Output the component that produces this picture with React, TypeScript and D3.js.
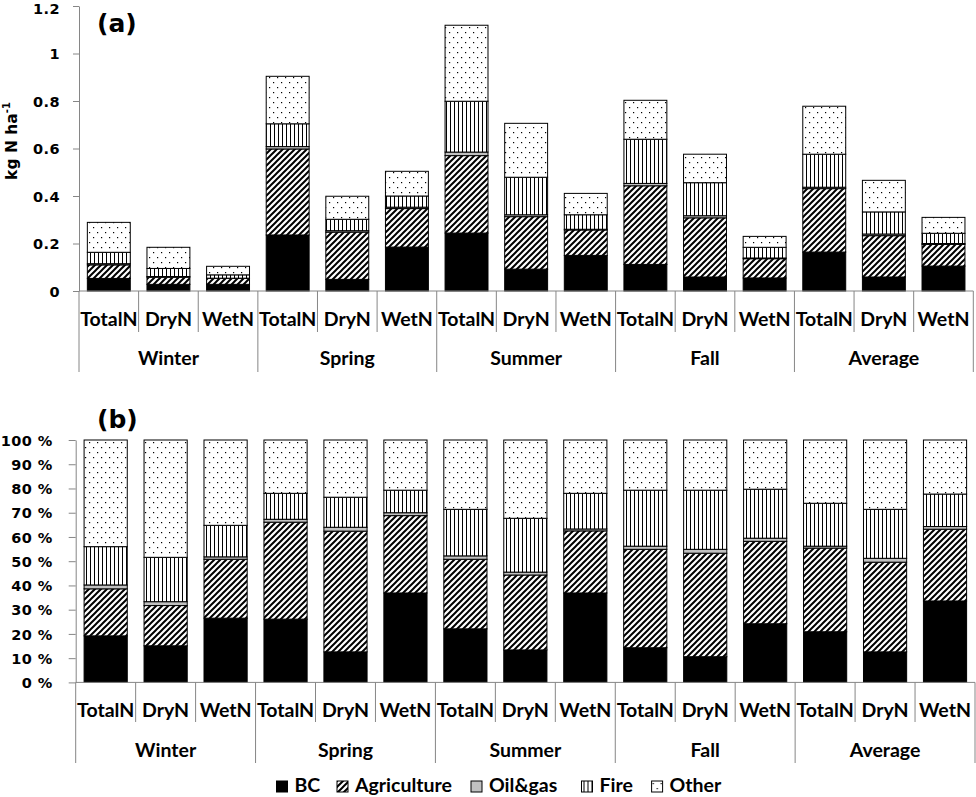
import { useRef, useEffect } from 'react';
import * as d3 from 'd3';

const seasons = ['Winter', 'Spring', 'Summer', 'Fall', 'Average'];
const types = ['TotalN', 'DryN', 'WetN'];
const sources = ['BC', 'Agriculture', 'Oil&gas', 'Fire', 'Other'];

// panel (a): kg N ha-1, bars in order Winter TotalN, DryN, WetN, Spring TotalN ... Average WetN
const bcA = [0.053, 0.028, 0.028, 0.236, 0.049, 0.185, 0.244, 0.092, 0.15, 0.112, 0.059, 0.055, 0.164, 0.059, 0.105];
const agriA = [0.057, 0.03, 0.025, 0.362, 0.199, 0.162, 0.326, 0.221, 0.107, 0.331, 0.249, 0.081, 0.267, 0.174, 0.091];
const oilA = [0.005, 0.003, 0.001, 0.01, 0.006, 0.006, 0.015, 0.008, 0.003, 0.01, 0.009, 0.003, 0.006, 0.007, 0.004];
const fireA = [0.048, 0.034, 0.014, 0.096, 0.048, 0.047, 0.214, 0.158, 0.061, 0.186, 0.139, 0.045, 0.139, 0.093, 0.043];
const otherA = [0.126, 0.089, 0.036, 0.2, 0.097, 0.104, 0.32, 0.227, 0.09, 0.164, 0.12, 0.046, 0.202, 0.133, 0.067];

// panel (b): percent share, same bar order
const bcB = [19.2, 15.1, 26.5, 26.1, 12.6, 36.9, 22.1, 13.4, 36.9, 14.3, 10.6, 24.2, 20.9, 12.6, 33.6];
const agriB = [19.4, 16.6, 24.3, 40.0, 49.8, 31.9, 28.7, 30.9, 25.6, 40.6, 42.7, 34.0, 34.5, 37.0, 29.6];
const oilB = [1.6, 1.6, 1.0, 1.2, 1.6, 1.2, 1.4, 1.2, 0.8, 1.3, 1.6, 1.3, 0.8, 1.6, 1.1];
const fireB = [15.8, 18.3, 13.0, 10.7, 12.4, 9.3, 19.2, 22.2, 14.7, 23.1, 24.4, 20.2, 17.7, 20.2, 13.4];
const otherB = [44.0, 48.4, 35.2, 22.0, 23.6, 20.7, 28.6, 32.3, 22.0, 20.7, 20.7, 20.3, 26.1, 28.6, 22.3];

const ticksA = [0, 0.2, 0.4, 0.6, 0.8, 1, 1.2];
const ticksB = [0, 10, 20, 30, 40, 50, 60, 70, 80, 90, 100];

const AXIS = '#868686';
const fills = ['#000', 'url(#agri)', '#c0c0c0', 'url(#fire)', 'url(#other)'];
const numFont = 'DejaVu Sans, Verdana, sans-serif';
const labFont = 'Lato, Calibri, sans-serif';

interface Panel {
  values: number[][];
  x0: number;
  x1: number;
  yBase: number;
  yTop: number;
  max: number;
  ticks: number[];
  fmt: (v: number) => string;
  tickLen: number;
  tickPad: number;
  catY: number;
  grpY: number;
  sepShort: number;
  sepLong: number;
  tag: string;
  tagY: number;
}

function drawPanel(svg: d3.Selection<SVGSVGElement, unknown, null, undefined>, p: Panel) {
  const cats = seasons.flatMap((s) => types.map((t) => `${s}-${t}`));
  const rows = cats.map((c, i) => {
    const r: { [key: string]: any } = { key: c };
    sources.forEach((s, j) => (r[s] = p.values[j][i]));
    return r;
  });
  const series = d3.stack<any>().keys(sources)(rows);

  const x = d3.scaleBand().domain(cats).range([p.x0, p.x1]).paddingInner(0.28).paddingOuter(0.14);
  const y = d3.scaleLinear().domain([0, p.max]).range([p.yBase, p.yTop]);
  const bound = d3.scaleLinear().domain([0, cats.length]).range([p.x0, p.x1]);

  const g = svg.append('g');

  // stacked bars
  g.selectAll('g.layer')
    .data(series)
    .enter()
    .append('g')
    .attr('class', 'layer')
    .attr('fill', (_d, i) => fills[i])
    .selectAll('rect')
    .data((d) => d)
    .enter()
    .append('rect')
    .attr('x', (d: any) => x(d.data.key)!)
    .attr('y', (d) => y(d[1]))
    .attr('width', x.bandwidth())
    .attr('height', (d) => y(d[0]) - y(d[1]))
    .attr('stroke', '#000')
    .attr('stroke-width', 1);

  // y axis
  const ya = g
    .append('g')
    .attr('transform', `translate(${p.x0},0)`)
    .call(
      d3
        .axisLeft(y)
        .tickValues(p.ticks)
        .tickFormat((v) => p.fmt(+v))
        .tickSize(p.tickLen)
        .tickSizeOuter(0)
        .tickPadding(p.tickPad)
    );
  ya.select('.domain').attr('stroke', AXIS);
  ya.selectAll('.tick line').attr('stroke', AXIS);
  ya.selectAll<SVGTextElement, number>('text')
    .attr('font-family', numFont)
    .attr('font-weight', 'bold')
    .attr('font-size', 14.5)
    .attr('letter-spacing', 0.4)
    // the topmost label sits a little lower so it stays inside the frame
    .attr('dy', (v) => (y(v) < 10 ? '0.55em' : '0.36em'))
    .attr('fill', '#000');

  // x axis line and category separators
  g.append('line')
    .attr('x1', p.x0)
    .attr('x2', p.x1)
    .attr('y1', p.yBase)
    .attr('y2', p.yBase)
    .attr('stroke', AXIS);
  g.selectAll('line.sep')
    .data(d3.range(cats.length + 1))
    .enter()
    .append('line')
    .attr('class', 'sep')
    .attr('x1', (i) => bound(i))
    .attr('x2', (i) => bound(i))
    .attr('y1', p.yBase)
    .attr('y2', (i) => (i % 3 === 0 ? p.sepLong : p.sepShort))
    .attr('stroke', AXIS);

  g.selectAll('text.cat')
    .data(cats)
    .enter()
    .append('text')
    .attr('class', 'cat')
    .attr('x', (c) => x(c)! + x.bandwidth() / 2)
    .attr('y', p.catY)
    .attr('text-anchor', 'middle')
    .attr('font-family', labFont)
    .attr('font-weight', 'bold')
    .attr('font-size', 19.5)
    .text((c) => c.split('-')[1]);

  g.selectAll('text.grp')
    .data(seasons)
    .enter()
    .append('text')
    .attr('class', 'grp')
    .attr('x', (_s, k) => (bound(k * 3) + bound(k * 3 + 3)) / 2)
    .attr('y', p.grpY)
    .attr('text-anchor', 'middle')
    .attr('font-family', labFont)
    .attr('font-weight', 'bold')
    .attr('font-size', 19.5)
    .text((s) => s);

  g.append('text')
    .attr('x', 97)
    .attr('y', p.tagY)
    .attr('font-family', numFont)
    .attr('font-weight', 'bold')
    .attr('font-size', 25)
    .text(p.tag);
}

export default function App() {
  const ref = useRef<SVGSVGElement>(null);

  useEffect(() => {
    if (!ref.current) return;
    const svg = d3.select(ref.current);
    svg.selectAll('*').remove();

    // fill patterns
    const defs = svg.append('defs');
    const agri = defs.append('pattern').attr('id', 'agri').attr('patternUnits', 'userSpaceOnUse').attr('width', 6).attr('height', 6);
    agri.append('rect').attr('width', 6).attr('height', 6).attr('fill', '#fff');
    agri.append('path').attr('d', 'M-1,1 L1,-1 M0,6 L6,0 M5,7 L7,5').attr('stroke', '#000').attr('stroke-width', 2);
    const fire = defs.append('pattern').attr('id', 'fire').attr('patternUnits', 'userSpaceOnUse').attr('width', 4).attr('height', 4);
    fire.append('rect').attr('width', 4).attr('height', 4).attr('fill', '#fff');
    fire.append('rect').attr('x', 2).attr('width', 1).attr('height', 4).attr('fill', '#000');
    const other = defs.append('pattern').attr('id', 'other').attr('patternUnits', 'userSpaceOnUse').attr('width', 8).attr('height', 10);
    other.append('rect').attr('width', 8).attr('height', 10).attr('fill', '#fff');
    other.append('rect').attr('x', 1).attr('y', 2).attr('width', 1.2).attr('height', 1.2).attr('fill', '#000');
    other.append('rect').attr('x', 5).attr('y', 7).attr('width', 1.2).attr('height', 1.2).attr('fill', '#000');

    drawPanel(svg, {
      values: [bcA, agriA, oilA, fireA, otherA],
      x0: 79,
      x1: 973.3,
      yBase: 291,
      yTop: 6,
      max: 1.2,
      ticks: ticksA,
      fmt: (v) => String(v),
      tickLen: 6,
      tickPad: 13,
      catY: 326,
      grpY: 365,
      sepShort: 332,
      sepLong: 372,
      tag: '(a)',
      tagY: 32,
    });

    drawPanel(svg, {
      values: [bcB, agriB, oilB, fireB, otherB],
      x0: 75.7,
      x1: 975,
      yBase: 682.4,
      yTop: 440,
      max: 100,
      ticks: ticksB,
      fmt: (v) => `${v} %`,
      tickLen: 7,
      tickPad: 16,
      catY: 716.7,
      grpY: 756.7,
      sepShort: 722,
      sepLong: 763,
      tag: '(b)',
      tagY: 428,
    });

    // y axis title of panel (a)
    const title = svg
      .append('text')
      .attr('transform', 'translate(17,141) rotate(-90)')
      .attr('text-anchor', 'middle')
      .attr('font-family', numFont)
      .attr('font-weight', 'bold')
      .attr('font-size', 15.5);
    title.append('tspan').text('kg N ha');
    title.append('tspan').attr('font-size', 10).attr('dy', -7).text('-1');

    // legend
    const legendX = [276.5, 337, 471, 581.5, 651.6];
    const legend = svg
      .append('g')
      .selectAll('g')
      .data(sources)
      .enter()
      .append('g')
      .attr('transform', (_s, i) => `translate(${legendX[i]},781)`);
    legend
      .append('rect')
      .attr('width', 11)
      .attr('height', 11)
      .attr('fill', (_s, i) => fills[i])
      .attr('stroke', '#000')
      .attr('stroke-width', 1);
    legend
      .append('text')
      .attr('x', 18)
      .attr('y', 11)
      .attr('font-family', labFont)
      .attr('font-weight', 'bold')
      .attr('font-size', 19.5)
      .text((s) => s);
  }, []);

  return (
    <svg
      ref={ref}
      width={976}
      height={797}
      style={{ position: 'absolute', left: 0, top: 0, background: '#fff' }}
    />
  );
}
